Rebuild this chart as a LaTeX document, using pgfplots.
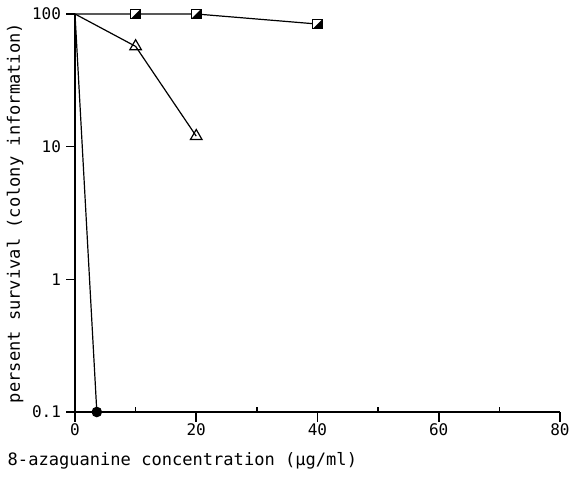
\documentclass[border=0pt]{standalone}
\usepackage{fontspec}
\setmainfont{DejaVu Sans Mono}
\usepackage{pgfplots}
\pgfplotsset{compat=1.18}

% half-filled square: white upper-left, black lower-right
\pgfdeclareplotmark{halfsq}{%
  \pgfpathrectangle{\pgfpoint{-\pgfplotmarksize}{-\pgfplotmarksize}}{\pgfpoint{2\pgfplotmarksize}{2\pgfplotmarksize}}%
  \pgfsetfillcolor{white}\pgfusepathqfillstroke
  \pgfpathmoveto{\pgfpoint{\pgfplotmarksize}{\pgfplotmarksize}}%
  \pgfpathlineto{\pgfpoint{\pgfplotmarksize}{-\pgfplotmarksize}}%
  \pgfpathlineto{\pgfpoint{-\pgfplotmarksize}{-\pgfplotmarksize}}%
  \pgfpathclose
  \pgfsetfillcolor{black}\pgfusepathqfill
  \pgfpathrectangle{\pgfpoint{-\pgfplotmarksize}{-\pgfplotmarksize}}{\pgfpoint{2\pgfplotmarksize}{2\pgfplotmarksize}}%
  \pgfusepathqstroke
}

\begin{document}
\begin{tikzpicture}
\useasboundingbox (-56.25pt,-50.25pt) rectangle (370.5pt,309pt);
\begin{axis}[
    at={(0,0)}, anchor=south west,
    scale only axis,
    width=363.75pt, height=298.5pt,
    ymode=log,
    xmin=0, xmax=80, ymin=0.1, ymax=100,
    axis lines*=left,
    axis line style={line width=1.1pt},
    xtick={0,20,40,60,80},
    ytick={0.1,1,10,100},
    yticklabels={0.1,1,10,100},
    yminorticks=false,
    tick align=center,
    major tick length=0pt,
    xticklabel style={yshift=-5pt},
    yticklabel style={xshift=-7pt},
    /pgf/number format/assume math mode=true,
    tick label style={font=\fontsize{12}{14}\selectfont},
    label style={font=\fontsize{12.8}{15}\selectfont},
    xlabel={8-azaguanine concentration (µg/ml)},
    ylabel={persent survival (colony information)},
    xlabel style={at={(rel axis cs:0,0)}, anchor=base west, xshift=-54pt, yshift=-40pt},
    ylabel style={at={(rel axis cs:0,0.5)}, anchor=center, yshift=45pt},
    clip=false,
]
% tick marks on the axis lines
\pgfplotsinvokeforeach{0,0.25,0.5,0.75,1}{
  \draw[line width=1.2pt] (rel axis cs:#1,0) -- (rel axis cs:#1,-0.025);}
\pgfplotsinvokeforeach{0.125,0.375,0.625,0.875}{
  \draw[line width=1pt] (rel axis cs:#1,0) -- (rel axis cs:#1,0.013);}
\pgfplotsinvokeforeach{0,0.33333,0.66667,1}{
  \draw[line width=1.2pt] (rel axis cs:0,#1) -- (rel axis cs:-0.018,#1);}
% squares
\addplot[line width=0.9pt, mark=halfsq, mark size=3.6pt, mark indices={2,3,4}]
  coordinates {(0,100) (10,100) (20,100) (40,84)};
% triangles
\addplot[line width=0.9pt, mark=triangle, mark size=5pt, mark options={fill=white}, mark indices={2,3}]
  coordinates {(0,100) (10,57) (20,12)};
% filled circles
\addplot[line width=0.9pt, mark=*, mark size=3.5pt, mark indices={2}]
  coordinates {(0,100) (3.6,0.1)};
\end{axis}
\end{tikzpicture}
\end{document}
